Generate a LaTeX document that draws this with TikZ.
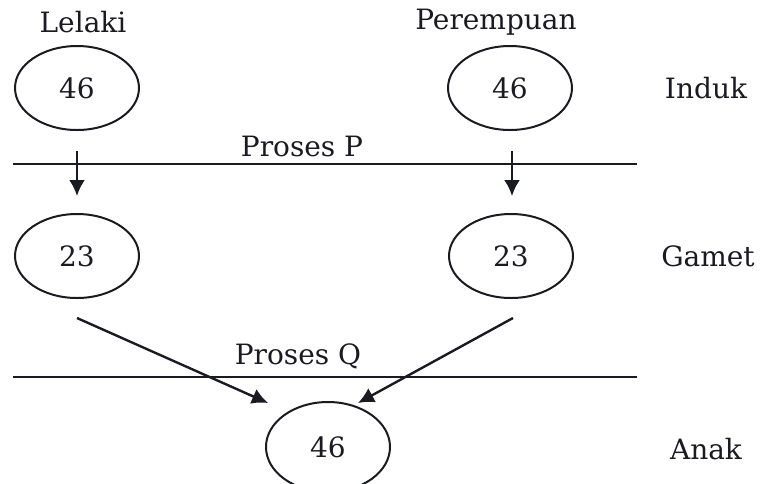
\documentclass[tikz,border=0pt]{standalone}
\usepackage{fontspec}
\setmainfont{DejaVu Serif}
\usetikzlibrary{arrows.meta,shapes.geometric}
\definecolor{ink}{HTML}{1A1A22}
\begin{document}
\begin{tikzpicture}[x=1pt,y=1pt,
  cell/.style={draw=ink,line width=2pt,ellipse,minimum width=124pt,minimum height=84pt,inner sep=0pt,font=\fontsize{28}{32}\selectfont,text=ink},
  lbl/.style={font=\fontsize{28}{32}\selectfont,text=ink,inner sep=0pt},
  rule/.style={draw=ink,line width=2.4pt},
  arr/.style={draw=ink,line width=2.4pt,-{Latex[length=16pt,width=16pt]}}]
\useasboundingbox (0,0) rectangle (769,-483);
\node[lbl] (lelaki) at (83,-22) {Lelaki};
\node[lbl] (perem) at (496,-22) {Perempuan};
\node[cell] (m1) at (77,-88) {46};
\node[cell] (f1) at (510,-88) {46};
\node[lbl] (induk) at (706,-88) {Induk};
\coordinate (l1a) at (13,-164);
\coordinate (l1b) at (637,-164);
\draw[rule] (l1a) -- (l1b);
\node[lbl] (pp) at (302,-146) {Proses P};
\coordinate (a1s) at (77,-151);
\coordinate (a1e) at (77,-196);
\coordinate (a2s) at (512,-151);
\coordinate (a2e) at (512,-196);
\draw[arr] (a1s) -- (a1e);
\draw[arr] (a2s) -- (a2e);
\node[cell] (m2) at (77,-256) {23};
\node[cell] (f2) at (511,-256) {23};
\node[lbl] (gamet) at (708,-256) {Gamet};
\coordinate (d1s) at (77,-318);
\coordinate (d1e) at (268,-403);
\coordinate (d2s) at (513,-318);
\coordinate (d2e) at (358,-403);
\draw[arr] (d1s) -- (d1e);
\draw[arr] (d2s) -- (d2e);
\coordinate (l2a) at (13,-377);
\coordinate (l2b) at (637,-377);
\draw[rule] (l2a) -- (l2b);
\node[lbl] (pq) at (298,-356) {Proses Q};
\node[cell,minimum height=90pt] (c) at (328,-447) {46};
\node[lbl] (anak) at (706,-449) {Anak};
\end{tikzpicture}
\end{document}
